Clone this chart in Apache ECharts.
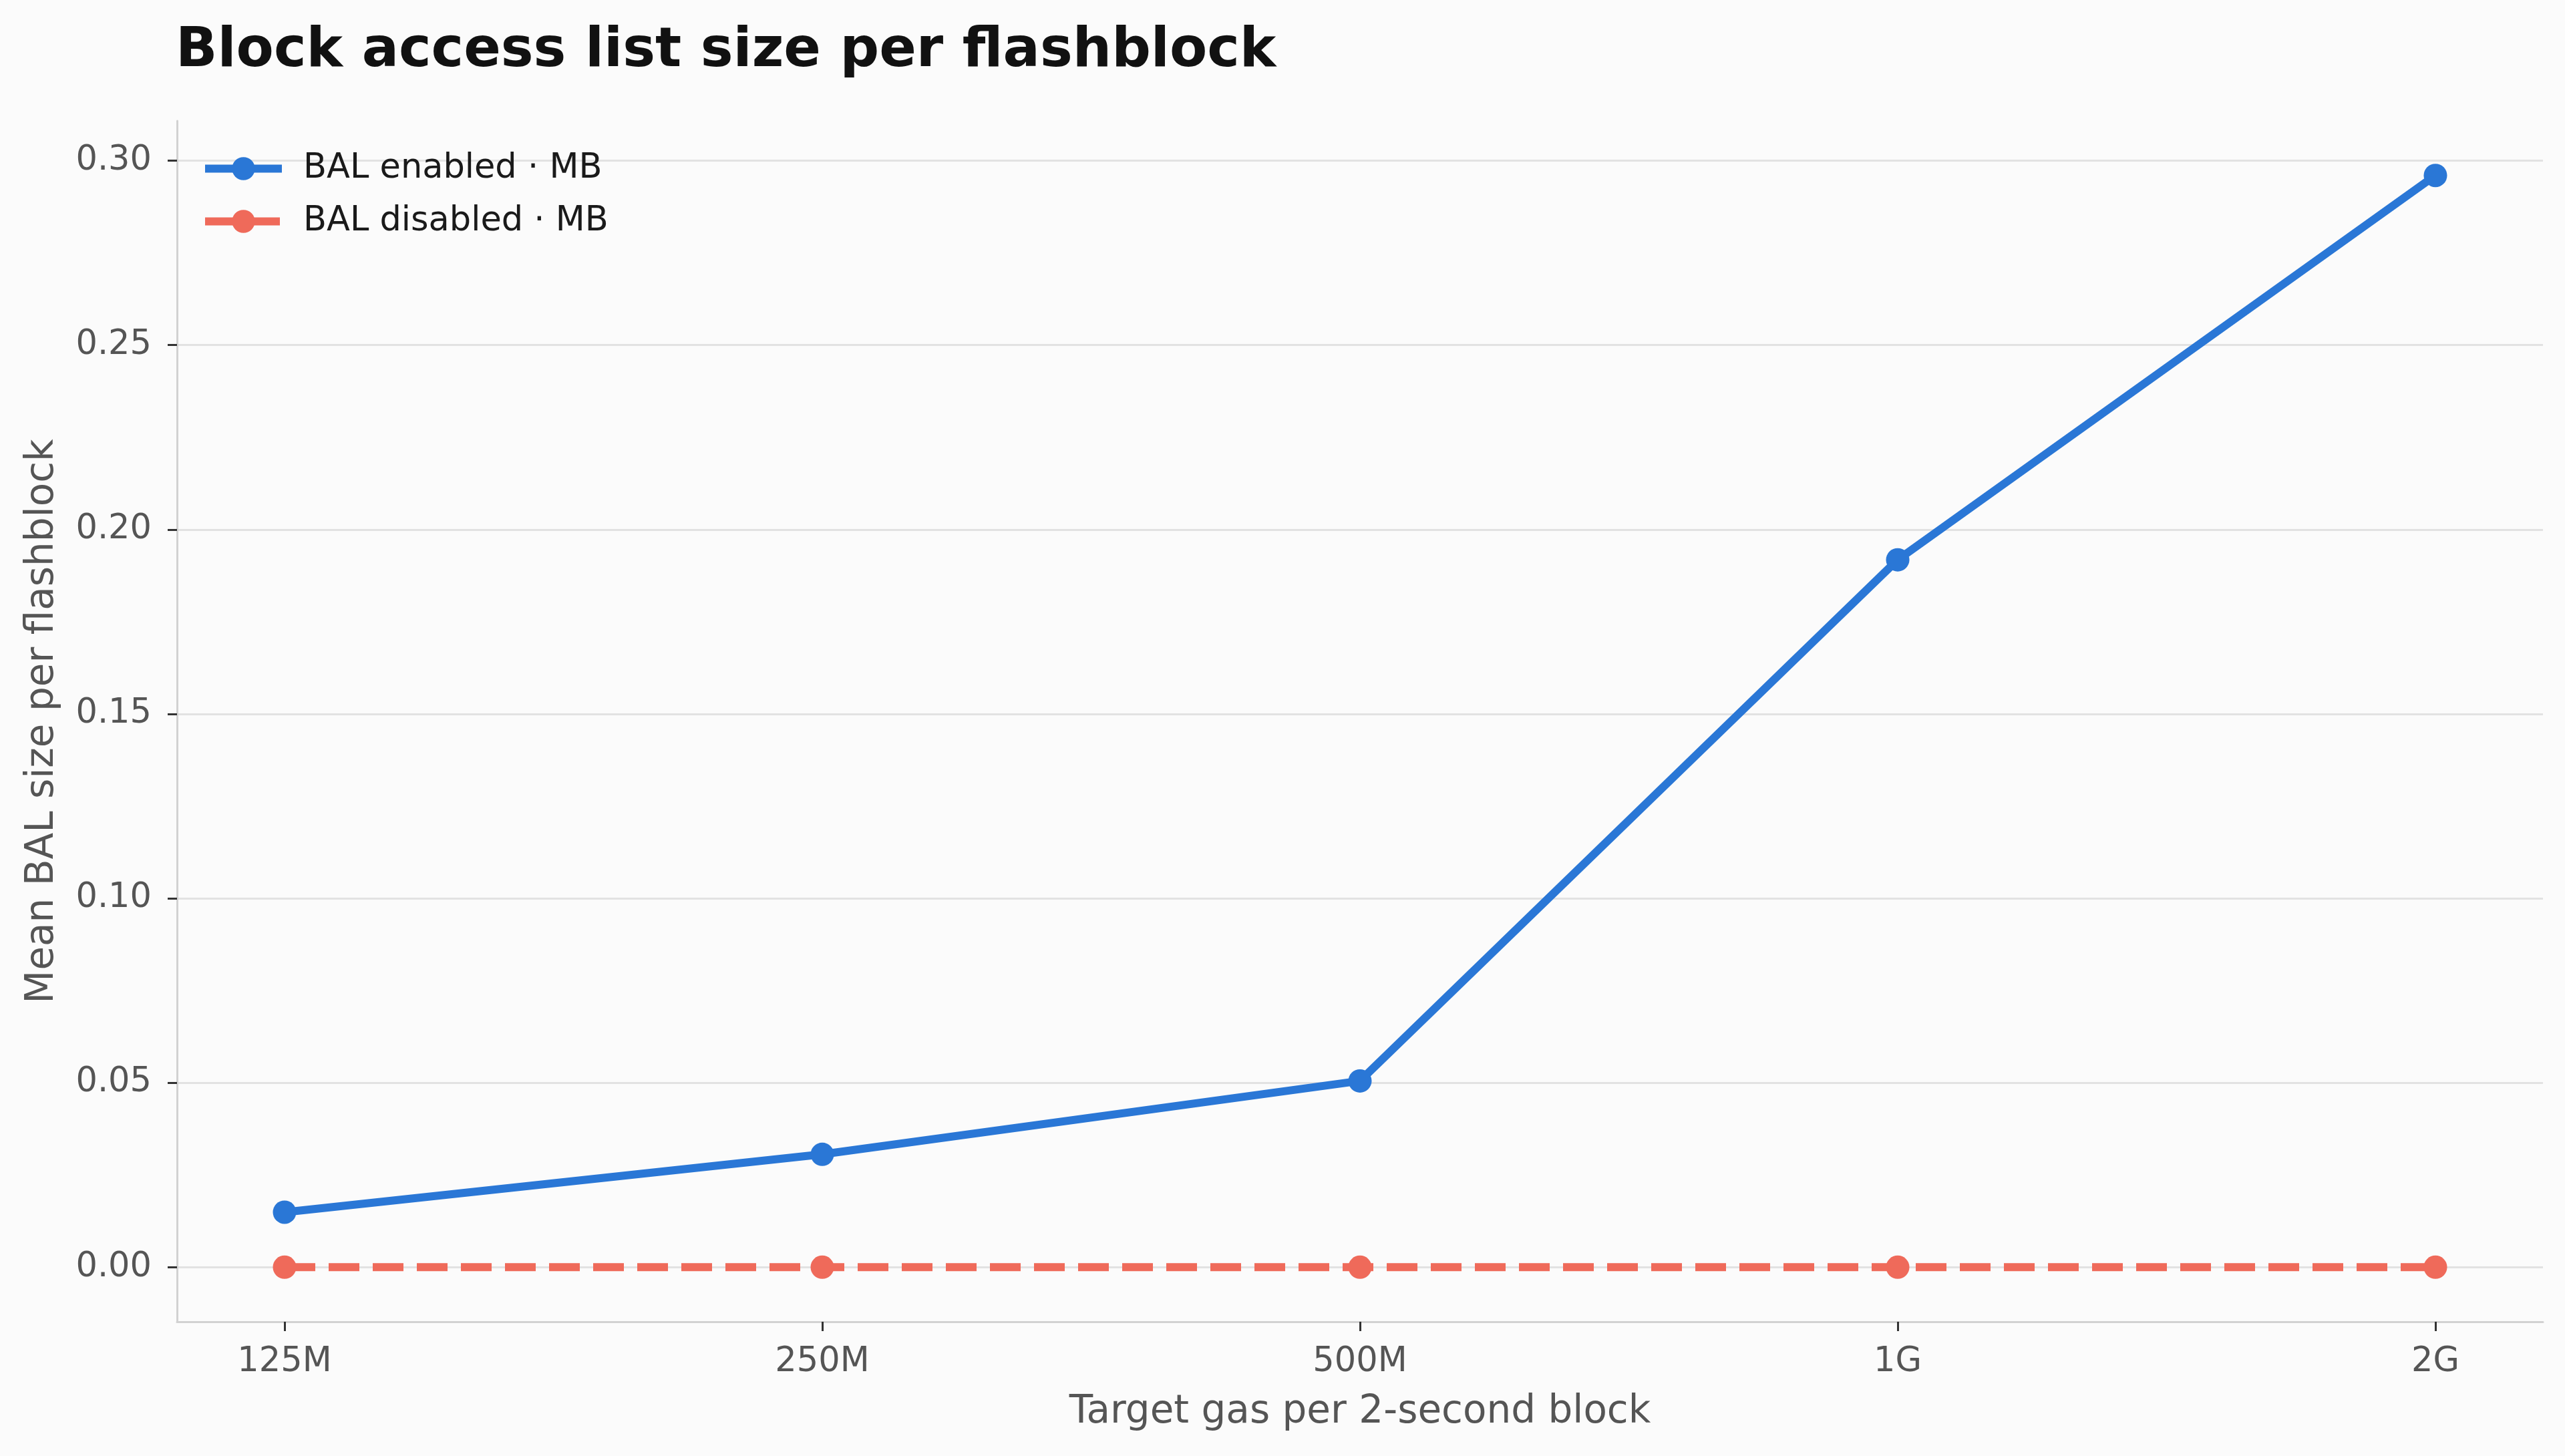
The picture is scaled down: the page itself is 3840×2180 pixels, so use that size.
<!DOCTYPE html>
<html>
<head>
<meta charset="utf-8">
<title>Block access list size per flashblock</title>
<script src="https://cdn.jsdelivr.net/npm/echarts@6/dist/echarts.min.js"></script>
<style>
  html, body { margin: 0; padding: 0; background: #fbfbfb; }
  #chart { width: 3840px; height: 2180px; }
</style>
</head>
<body>
<div id="chart"></div>
<script>
// x axis categories (target gas per 2-second block)
const gasTargets = ["125M", "250M", "500M", "1G", "2G"];
// mean BAL size per flashblock, MB
const balEnabled = [0.0149, 0.0306, 0.0505, 0.1918, 0.2960];
const balDisabled = [0, 0, 0, 0, 0];
const yTicks = [0, 0.05, 0.1, 0.15, 0.2, 0.25, 0.3];

const xTicks = gasTargets.map((_, i) => i);
const FONT = "DejaVu Sans";
const BLUE = "#2a77d6";
const RED = "#ef6a5a";

const chart = echarts.init(document.getElementById("chart"), null, { renderer: "canvas" });

const option = {
  backgroundColor: "#fbfbfb",
  animation: false,
  title: {
    text: "Block access list size per flashblock",
    left: 258,
    top: 32,
    textStyle: { fontFamily: FONT, fontSize: 82, fontWeight: "bold", color: "#111111" },
  },
  legend: {
    left: 296,
    top: 222,
    orient: "vertical",
    itemWidth: 115,
    itemHeight: 43,
    itemGap: 28,
    lineStyle: { width: 12 },
    textStyle: { fontFamily: FONT, fontSize: 51, color: "#1a1a1a", padding: [0, 0, 0, 27] },
    data: ["BAL enabled · MB", "BAL disabled · MB"],
  },
  grid: { left: 265, right: 33, top: 181, bottom: 201, containLabel: false },
  xAxis: {
    type: "value",
    min: -0.2,
    max: 4.2,
    name: "Target gas per 2-second block",
    nameLocation: "middle",
    nameGap: 107,
    nameTextStyle: { fontFamily: FONT, fontSize: 58, color: "#555555" },
    axisLine: { show: true, onZero: false, lineStyle: { color: "#d2d2d2", width: 3 } },
    axisTick: { show: true, customValues: xTicks, length: 14, lineStyle: { color: "#333333", width: 3 } },
    axisLabel: {
      customValues: xTicks,
      margin: 35,
      fontFamily: FONT,
      fontSize: 51,
      color: "#555555",
      formatter: (v) => gasTargets[Math.round(v)] || "",
    },
    splitLine: { show: false },
  },
  yAxis: {
    type: "value",
    min: -0.0148,
    max: 0.3108,
    name: "Mean BAL size per flashblock",
    nameLocation: "middle",
    nameGap: 172,
    nameTextStyle: { fontFamily: FONT, fontSize: 58, color: "#555555" },
    axisLine: { show: true, onZero: false, lineStyle: { color: "#d2d2d2", width: 3 } },
    axisTick: { show: true, customValues: yTicks, length: 14, lineStyle: { color: "#333333", width: 3 } },
    axisLabel: {
      customValues: yTicks,
      margin: 38,
      fontFamily: FONT,
      fontSize: 51,
      color: "#555555",
      formatter: (v) => v.toFixed(2),
    },
    splitLine: { show: true, lineStyle: { color: "#e2e2e2", width: 3 } },
  },
  series: [
    {
      name: "BAL enabled · MB",
      type: "line",
      data: balEnabled.map((v, i) => [i, v]),
      symbol: "circle",
      symbolSize: 35,
      color: BLUE,
      lineStyle: { color: BLUE, width: 12 },
      itemStyle: { color: BLUE },
      z: 3,
    },
    {
      name: "BAL disabled · MB",
      type: "line",
      data: balDisabled.map((v, i) => [i, v]),
      symbol: "circle",
      symbolSize: 35,
      color: RED,
      lineStyle: { color: RED, width: 12, type: [46, 20] },
      itemStyle: { color: RED },
      z: 2,
    },
  ],
};

chart.setOption(option);
</script>
</body>
</html>
